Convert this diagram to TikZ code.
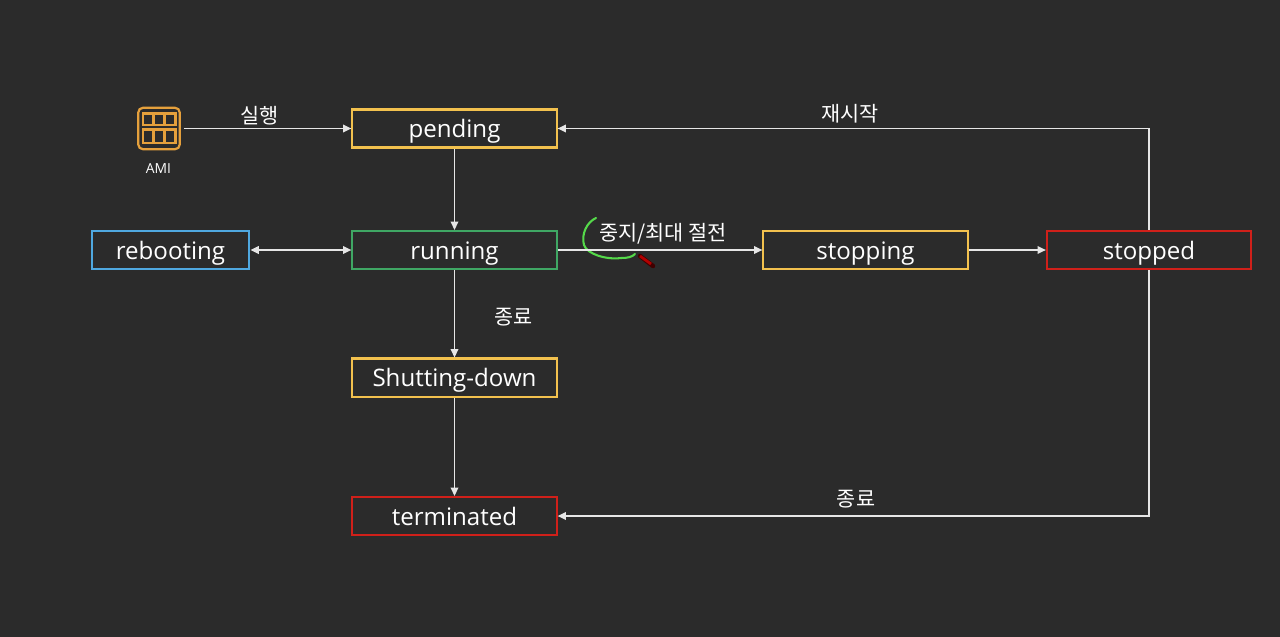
\documentclass[tikz,border=0pt]{standalone}
\usepackage{fontspec}
\setmainfont{Open Sans}
\newfontfamily\cjk{Noto Sans CJK KR}
\usepackage{xcolor}
\usetikzlibrary{arrows.meta}
\definecolor{bgdark}{HTML}{2B2B2B}
\definecolor{stateyellow}{HTML}{F2C14E}
\definecolor{statered}{HTML}{D0201A}
\definecolor{stategreen}{HTML}{3FA764}
\definecolor{stateblue}{HTML}{4FA8E0}
\definecolor{amiorange}{HTML}{E5A03C}
\definecolor{markgreen}{HTML}{55D94A}
\definecolor{linegray}{HTML}{E6E6E6}
\tikzset{
    statebox/.style={draw=#1, line width=1.5pt, minimum width=147.5pt, minimum height=27.5pt, inner sep=0pt, text height=17.6pt, text depth=4pt, text=white, font=\fontsize{17.4}{20}\selectfont},
    flow/.style={draw=linegray, line width=1pt, -{Triangle[length=6pt,width=5.5pt]}},
    krlabel/.style={text=white, inner sep=0pt, font=\cjk\fontsize{15}{17}\selectfont},
}
\begin{document}
\begin{tikzpicture}[x=0.01in, y=-0.01in]
    \fill[bgdark] (0,0) rectangle (1280,637);
    \useasboundingbox (0,0) rectangle (1280,637);

    % states
    \node[statebox=stateyellow] (pending) at (454.5,128.5) {pending};
    \node[statebox=stategreen] (running) at (454.5,250) {running};
    \node[statebox=stateyellow] (shutting) at (454.5,377.5) {Shutting-down};
    \node[statebox=statered] (terminated) at (454.5,516) {terminated};
    \node[statebox=stateblue, minimum width=114pt] (rebooting) at (170.5,250) {rebooting};
    \node[statebox=stateyellow] (stopping) at (865.5,250) {stopping};
    \node[statebox=statered] (stopped) at (1149,250) {stopped};

    % AMI icon
    \node[draw=amiorange, line width=1.6pt, rounded corners=3.5pt, minimum width=30pt, minimum height=30pt, inner sep=0pt] (ami) at (159,128.5) {};
    \draw[amiorange, line width=1.5pt] (143,113.5) rectangle (175.5,125);
    \draw[amiorange, line width=1.5pt] (143,129.5) rectangle (175.5,143);
    \foreach \x in {153.5,164.5} {
        \draw[amiorange, line width=1.5pt] (\x,113.5) -- (\x,125) (\x,129.5) -- (\x,143);
    }
    \node[text=white, inner sep=0pt, font=\fontsize{10}{12}\selectfont] (amilabel) at (158.5,168.5) {AMI};

    % green mark and pencil
    \draw[markgreen, line width=1.5pt, line cap=round] (596,218) .. controls (587,222) and (581,234) .. (584,245)
        .. controls (587,254) and (606,260) .. (621,258) .. controls (628,258) and (632,257) .. (635,254);
    \draw[black!75!red, line width=3.2pt, line cap=round] (640,256) -- (653,266);
    \draw[red!70!black, line width=2pt] (640,256) -- (651,264);

    % connectors
    \coordinate (amiout) at (184,128.5);
    \draw[flow] (amiout) -- (pending.west);
    \draw[flow] (pending) -- (running);
    \draw[flow, {Triangle[length=6pt,width=5.5pt]}-{Triangle[length=6pt,width=5.5pt]}] (rebooting) -- (running);
    \draw[flow] (running) -- (shutting);
    \draw[flow] (shutting) -- (terminated);
    \draw[flow] (running) -- (stopping);
    \draw[flow] (stopping) -- (stopped);
    \draw[flow] (stopped.north) |- (pending.east);
    \draw[flow] (stopped.south) |- (terminated.east);

    % labels
    \node[krlabel] (runlabel) at (259.5,116) {실행};
    \node[krlabel] (restartlabel) at (850,114) {재시작};
    \node[krlabel] (stoplabel) at (663,234) {중지/최대 절전};
    \node[krlabel] (endlabel) at (513.5,317.5) {종료};
    \node[krlabel] (endlabelb) at (856,499.5) {종료};
\end{tikzpicture}
\end{document}
